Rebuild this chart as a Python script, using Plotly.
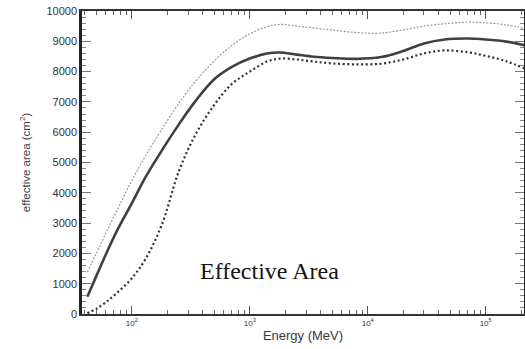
import plotly.graph_objects as go

energy_mev = [42, 50, 60, 75, 100, 130, 180, 250, 350, 500, 700, 1000, 1400, 1800,
              2500, 3500, 5000, 8000, 13000, 20000, 30000, 45000, 70000, 100000,
              150000, 212000]

area_upper = [1380, 2000, 2650, 3420, 4400, 5200, 6100, 6950, 7700, 8350, 8850, 9250,
              9480, 9560, 9500, 9440, 9370, 9290, 9270, 9380, 9500, 9580, 9630, 9610,
              9540, 9430]

area_mid = [570, 1250, 1950, 2750, 3650, 4500, 5400, 6250, 7050, 7750, 8150, 8430,
            8600, 8630, 8560, 8490, 8450, 8420, 8480, 8680, 8930, 9060, 9090, 9060,
            8990, 8870]

area_lower = [30, 170, 380, 700, 1180, 1800, 2950, 4700, 5950, 6900, 7580, 8000,
              8330, 8430, 8400, 8330, 8270, 8240, 8260, 8400, 8600, 8700, 8640, 8520,
              8340, 8110]

x_tick_vals = [100, 1000, 10000, 100000]
x_tick_text = ["10<sup>2</sup>", "10<sup>3</sup>", "10<sup>4</sup>", "10<sup>5</sup>"]
y_tick_vals = list(range(0, 10001, 1000))
y_tick_text = [str(v) for v in y_tick_vals]

x_minor = [m * 10 ** e for e in range(1, 6) for m in range(2, 10)]

fig = go.Figure()
fig.add_trace(go.Scatter(x=energy_mev, y=area_upper, mode="lines",
                         line=dict(color="#9a9a9a", width=1.2, dash="2px,1.5px", shape="spline"),
                         hoverinfo="skip"))
fig.add_trace(go.Scatter(x=energy_mev, y=area_mid, mode="lines",
                         line=dict(color="#404040", width=2.6, shape="spline"),
                         hoverinfo="skip"))
fig.add_trace(go.Scatter(x=energy_mev, y=area_lower, mode="lines",
                         line=dict(color="#303030", width=2.2, dash="2px,2.6px", shape="spline"),
                         hoverinfo="skip"))

fig.update_layout(
    width=525, height=349,
    margin=dict(l=82, r=1, t=11, b=35, autoexpand=False),
    paper_bgcolor="white", plot_bgcolor="white",
    showlegend=False,
    font=dict(family="Liberation Sans, Arial, sans-serif", color="#333333"),
    annotations=[dict(text="Effective Area", x=0.425, y=0.142, xref="paper", yref="paper",
                      showarrow=False, xanchor="center", yanchor="middle",
                      font=dict(family="Liberation Serif, Times New Roman, serif", size=24, color="#151515"))],
)

fig.update_xaxes(
    type="log", range=[1.578, 5.325],
    tickvals=x_tick_vals, ticktext=x_tick_text,
    tickfont=dict(size=8, color="#333333"),
    ticks="inside", ticklen=8, tickwidth=1, tickcolor="#555555",
    minor=dict(tickvals=x_minor, ticks="inside", ticklen=4, tickcolor="#666666", tickwidth=1, showgrid=False),
    showline=True, linecolor="#333333", linewidth=2, mirror="allticks",
    showgrid=False, zeroline=False, automargin=False,
    title=dict(text="Energy (MeV)", font=dict(size=13, color="#3a3a3a"), standoff=4),
)
fig.update_yaxes(
    range=[0, 10000],
    tickvals=y_tick_vals, ticktext=y_tick_text, ticklabeloverflow="allow",
    tickfont=dict(size=11, color="#333333"),
    ticks="inside", ticklen=9, tickwidth=1, tickcolor="#777777",
    minor=dict(dtick=200, ticks="inside", ticklen=4, tickcolor="#888888", tickwidth=1, showgrid=False),
    showline=True, linecolor="#222222", linewidth=2.5, mirror="allticks",
    showgrid=False, zeroline=False, automargin=False,
    title=dict(text="effective area (cm<sup>2</sup>)", font=dict(size=11.5, color="#444444"), standoff=14),
)

fig.write_html("out.html", config={"displayModeBar": False},
               post_script="document.body.style.margin='0';")
